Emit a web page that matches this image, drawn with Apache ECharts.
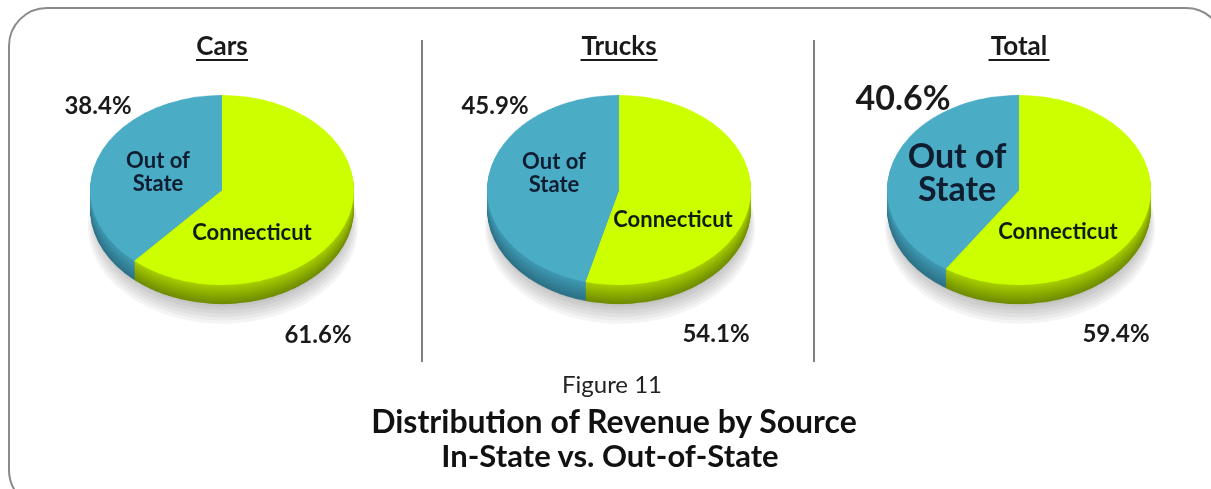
<!DOCTYPE html>
<html><head><meta charset="utf-8">
<script src="https://cdn.jsdelivr.net/npm/echarts@6/dist/echarts.min.js"></script>
<style>
html,body{margin:0;padding:0;background:#fff;overflow:hidden}
#wrap{position:relative;width:1211px;height:489px;overflow:hidden;background:#fff}
#pies{position:absolute;left:0;top:0;width:1211px;transform-origin:0 0}
#main{position:absolute;left:0;top:0;width:1211px;height:489px}
</style></head><body>
<div id="wrap"><div id="pies"></div><div id="main"></div></div>
<script>
// ---- data ----
const groups = ['Cars', 'Trucks', 'Total'];
const categories = ['Connecticut', 'Out of State'];
const connecticut = [61.6, 54.1, 59.4];
const outOfState = [38.4, 45.9, 40.6];

// ---- layout / style ----
const K = 0.72;            // vertical squash for the tilted look
const R = 132;             // pie radius (px, horizontal)
const cx = [222, 619, 1019];
const cyScreen = 190;
const depth = 19;
const nLayers = 16;
const nShadow = 7;
const topColors = ['#CCFF00', '#4BACC6'];
const sideTop = ['#A9D000', '#3F9BB4'];
const sideBot = ['#6F8C00', '#2D7186'];
const FONT = 'Lato, "Open Sans", sans-serif';

function hex(c){return [parseInt(c.slice(1,3),16),parseInt(c.slice(3,5),16),parseInt(c.slice(5,7),16)];}
function mix(a,b,t){const x=hex(a),y=hex(b);return 'rgb('+x.map((v,i)=>Math.round(v+(y[i]-v)*t)).join(',')+')';}

const piesDiv = document.getElementById('pies');
piesDiv.style.height = (489 / K) + 'px';
piesDiv.style.transform = 'scaleY(' + K + ')';
const pieChart = echarts.init(piesDiv, null, {renderer: 'canvas'});

const series = [];
groups.forEach((g, i) => {
  const values = [connecticut[i], outOfState[i]];
  // soft drop shadow under the pie (stacked translucent discs)
  for (let s = nShadow; s >= 1; s--) {
    series.push({
      type: 'pie', name: g + ' shadow', silent: true, animation: false,
      radius: R - 8 + s * 1.6, center: [cx[i] + 1, (cyScreen + depth + 2 + s * 2.2) / K],
      startAngle: 90, label: {show: false}, labelLine: {show: false}, emphasis: {disabled: true},
      itemStyle: {borderWidth: 0, color: 'rgba(0,0,0,0.045)'},
      data: categories.map((c, k) => ({name: c, value: values[k]}))
    });
  }
  for (let j = nLayers; j >= 0; j--) {
    const off = depth * j / nLayers;
    const isTop = j === 0;
    const t = j / nLayers;
    const cols = isTop ? topColors : [mix(sideTop[0], sideBot[0], t), mix(sideTop[1], sideBot[1], t)];
    series.push({
      type: 'pie',
      name: g,
      silent: true,
      animation: false,
      radius: R,
      center: [cx[i], (cyScreen + off) / K],
      startAngle: 90,
      clockwise: true,
      label: {show: false},
      labelLine: {show: false},
      emphasis: {disabled: true},
      itemStyle: {borderWidth: 0},
      data: categories.map((c, k) => ({name: c, value: values[k], itemStyle: {color: cols[k]}}))
    });
  }
});
pieChart.setOption({series});

// ---- text overlay ----
const main = echarts.init(document.getElementById('main'), null, {renderer: 'svg'});
const titleW = [52, 77, 61];
const pctOutPos = [[98, 104], [495, 104], [903, 96]];
const pctInPos = [[318, 333], [716, 332], [1116, 332]];
const outLblPos = [[158, 171], [554, 172], [957, 171]];
const connLblPos = [[252, 231], [673, 218], [1058, 230]];
const graphic = [
  {type: 'rect', shape: {x: 9, y: 8, width: 1215, height: 500, r: 38}, style: {fill: 'none', stroke: '#8a8a8a', lineWidth: 2}},
  {type: 'line', shape: {x1: 422, y1: 40, x2: 422, y2: 362}, style: {stroke: '#555', lineWidth: 1.5}},
  {type: 'line', shape: {x1: 814, y1: 40, x2: 814, y2: 362}, style: {stroke: '#555', lineWidth: 1.5}}
];
groups.forEach((g, i) => {
  const tx = cx[i];
  graphic.push({type: 'text', x: tx, y: 45, style: {text: g, font: 'bold 26px ' + FONT, fill: '#1a1a1a', align: 'center', verticalAlign: 'middle'}});
  graphic.push({type: 'line', shape: {x1: tx - titleW[i] / 2, y1: 60, x2: tx + titleW[i] / 2, y2: 60}, style: {stroke: '#1a1a1a', lineWidth: 2}});
  const big = i === 2;
  graphic.push({type: 'text', x: pctOutPos[i][0], y: pctOutPos[i][1], style: {text: outOfState[i].toFixed(1) + '%', font: 'bold ' + (big ? 34 : 24) + 'px ' + FONT, fill: '#1a1a1a', align: 'center', verticalAlign: 'middle'}});
  graphic.push({type: 'text', x: pctInPos[i][0], y: pctInPos[i][1], style: {text: connecticut[i].toFixed(1) + '%', font: 'bold 24px ' + FONT, fill: '#1a1a1a', align: 'center', verticalAlign: 'middle'}});
  graphic.push({type: 'text', x: outLblPos[i][0], y: outLblPos[i][1], style: {text: 'Out of\nState', font: 'bold ' + (big ? 34 : 22) + 'px ' + FONT, lineHeight: big ? 33 : 23, fill: '#0f1d30', align: 'center', verticalAlign: 'middle'}});
  graphic.push({type: 'text', x: connLblPos[i][0], y: connLblPos[i][1], style: {text: categories[0], font: 'bold 22px ' + FONT, fill: '#0f1d10', align: 'center', verticalAlign: 'middle'}});
});
graphic.push({type: 'text', x: 612, y: 383, style: {text: 'Figure 11', font: '24px ' + FONT, fill: '#222', align: 'center', verticalAlign: 'middle'}});
graphic.push({type: 'text', x: 614, y: 420, style: {text: 'Distribution of Revenue by Source', font: 'bold 32px ' + FONT, fill: '#111', align: 'center', verticalAlign: 'middle'}});
graphic.push({type: 'text', x: 610, y: 455, style: {text: 'In-State vs. Out-of-State', font: 'bold 31px ' + FONT, fill: '#111', align: 'center', verticalAlign: 'middle'}});
main.setOption({backgroundColor: 'transparent', graphic});
</script>
</body></html>
